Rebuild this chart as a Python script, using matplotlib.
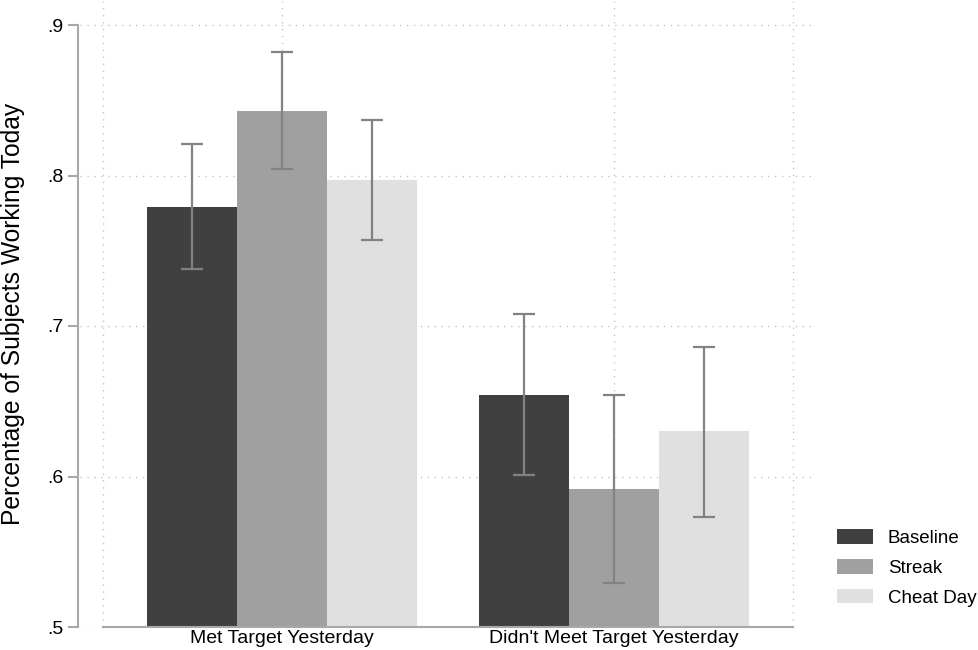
import matplotlib
matplotlib.use("Agg")
import matplotlib.pyplot as plt
import numpy as np

plt.rcParams['font.family'] = ['Liberation Sans', 'DejaVu Sans']

categories = ["Met Target Yesterday", "Didn't Meet Target Yesterday"]
series = ["Baseline", "Streak", "Cheat Day"]
means = {
    "Baseline":  [0.779, 0.654],
    "Streak":    [0.843, 0.592],
    "Cheat Day": [0.797, 0.630],
}
ci_low = {
    "Baseline":  [0.738, 0.601],
    "Streak":    [0.804, 0.529],
    "Cheat Day": [0.757, 0.573],
}
ci_high = {
    "Baseline":  [0.821, 0.708],
    "Streak":    [0.882, 0.654],
    "Cheat Day": [0.837, 0.686],
}
yticks = [0.5, 0.6, 0.7, 0.8, 0.9]
ytick_labels = [".5", ".6", ".7", ".8", ".9"]
ylabel = "Percentage of Subjects Working Today"

colors = ["#404040", "#a0a0a0", "#e0e0e0"]
err_color = "#828282"
axis_color = "#a8a8a8"
grid_color = "#c4c4c4"
fs = 14
fs_leg = 13.5

W, H = 979, 650
fig = plt.figure(figsize=(W / 100, H / 100), dpi=100)
ax = fig.add_axes([78 / W, 23 / H, (815 - 78) / W, (649 - 23) / H])

x = np.arange(len(categories))
w = 0.2711
pad = 0.1325
offsets = (np.arange(len(series)) - (len(series) - 1) / 2) * w
edge_l = x[0] - len(series) / 2 * w - pad
edge_r = x[-1] + len(series) / 2 * w + pad

containers = []
for i, s in enumerate(series):
    xs = x + offsets[i]
    m = np.array(means[s])
    c = ax.bar(xs, m - 0.5, bottom=0.5, width=w, color=colors[i], zorder=2, linewidth=0)
    containers.append(c)
    lo = m - np.array(ci_low[s])
    hi = np.array(ci_high[s]) - m
    ax.errorbar(xs, m, yerr=[lo, hi], fmt='none', ecolor=err_color, elinewidth=1.6,
                capsize=8, capthick=1.6, zorder=3)

ax.set_xlim((78 - 282) / 332, (815 - 282) / 332)
ax.set_ylim(0.5, 0.9 + 24 / 1505)

# grid
for yv in yticks:
    ax.axhline(yv, xmin=2 / 737, xmax=1, color=grid_color, lw=1.0, ls=(0, (1, 4)), zorder=1)
for xv in [edge_l, *x, edge_r]:
    ax.axvline(xv, color=grid_color, lw=1.0, ls=(0, (1, 4)), zorder=1)

ax.set_yticks(yticks)
ax.set_yticklabels(ytick_labels, fontsize=fs)
ax.set_xticks(x)
ax.set_xticklabels(categories, fontsize=fs)
ax.tick_params(axis='y', length=7, width=1.5, color=axis_color, pad=3.5)
ax.tick_params(axis='x', length=0, pad=2)

for sp in ['top', 'right']:
    ax.spines[sp].set_visible(False)
ax.spines['left'].set_bounds(0.5, 0.9)
ax.spines['left'].set_color(axis_color)
ax.spines['left'].set_linewidth(1.5)
ax.spines['bottom'].set_bounds(edge_l, edge_r)
ax.spines['bottom'].set_color(axis_color)
ax.spines['bottom'].set_linewidth(1.5)
ax.spines['bottom'].set_zorder(4)

fig.text(13 / W, (650 - 314) / H, ylabel, rotation=90, ha='center', va='center', fontsize=17.7)

px = fs_leg * 100 / 72
ax.legend(containers, series, loc='center left', bbox_to_anchor=(837 / W, (650 - 568) / H),
          bbox_transform=fig.transFigure, frameon=False, borderpad=0, borderaxespad=0,
          handlelength=36 / px, handleheight=15 / px, handletextpad=15 / px,
          labelspacing=0.64, fontsize=fs_leg)

fig.savefig("out.png", dpi=100)
